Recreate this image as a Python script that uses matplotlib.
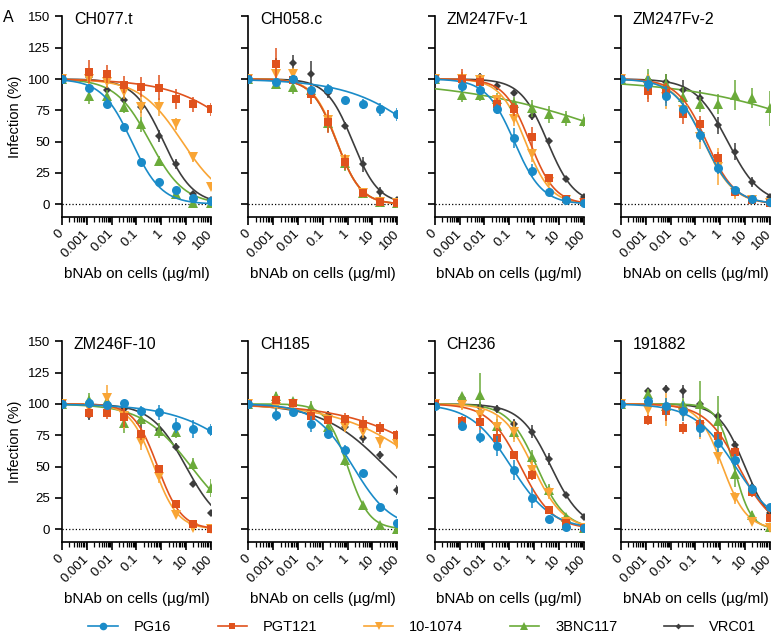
import numpy as np
import matplotlib
matplotlib.use('Agg')
import matplotlib.pyplot as plt
import matplotlib.ticker as mtick
from matplotlib.lines import Line2D

plt.rcParams['font.family'] = ['Liberation Sans', 'DejaVu Sans']

# viruses (panels) and bNAbs
viruses = ['CH077.t', 'CH058.c', 'ZM247Fv-1', 'ZM247Fv-2',
           'ZM246F-10', 'CH185', 'CH236', '191882']
antibodies = ['PG16', 'PGT121', '10-1074', '3BNC117', 'VRC01']
colors = ['#1a8bc8', '#e0521d', '#f9a535', '#6bab3a', '#3d3d3d']
markers = ['o', 's', 'v', '^', 'D']
msizes = [6.5, 6, 6.5, 6.5, 4]

# concentrations (ug/ml); 0 is drawn at the "0" position of the axis
conc = [0, 0.00128, 0.0064, 0.032, 0.16, 0.8, 4, 20, 100]
zero_pos = 1e-4
xticks = [1e-4, 1e-3, 1e-2, 1e-1, 1, 10, 100]
xticklabels = ['0', '0.001', '0.01', '0.1', '1', '10', '100']
yticks = [0, 25, 50, 75, 100, 125, 150]

# infection (%) per virus, one row per panel
pg16 = [[100, 93, 80, 61.6, 33.5, 17.5, 11.4, 5.3, 2.7],
        [100, 97.7, 100, 91.6, 92.4, 83, 79.7, 75.7, 71.7],
        [100, 94.3, 91, 75.7, 53, 26.8, 10, 3.5, 1.3],
        [100, 96.4, 86.3, 75.7, 55, 29, 11, 4, 1.6],
        [100, 101, 99, 100.7, 94.6, 93.3, 82.6, 80, 79.4],
        [100, 91.4, 93.3, 84, 76, 63.4, 44.8, 18, 5.3],
        [98.6, 82.6, 74, 66.6, 47, 24.8, 8.3, 2, 0.8],
        [100, 102, 98, 94.6, 80.7, 68.7, 55.4, 32, 17.3]]
pg16_err = [[2, 3, 3, 2, 2, 2, 2, 2, 2],
            [2, 3, 3, 3, 4, 3, 4, 5, 5],
            [2, 5, 4, 4, 8, 5, 3, 2, 1],
            [2, 6, 8, 5, 5, 5, 3, 2, 1],
            [1, 4, 3, 2, 4, 6, 6, 7, 5],
            [1, 5, 3, 6, 2, 4, 3, 2, 2],
            [1, 4, 5, 8, 8, 8, 2, 1, 1],
            [1, 4, 7, 8, 7, 7, 5, 4, 3]]

pgt121 = [[100, 106, 104, 95.6, 93.8, 93, 84, 79.7, 75.7],
          [100, 111.8, 99, 88, 66, 33.5, 9.3, 2, 1],
          [100, 100, 97.7, 80, 75.7, 54, 20.7, 4, 1.5],
          [100, 90.6, 89, 72, 63.7, 36.7, 10, 3.5, 1.3],
          [100, 92.7, 92.7, 89.3, 76, 48, 20, 4, 0],
          [100, 103, 101, 90, 87, 88, 84, 80.7, 75],
          [100, 86, 85.5, 72.7, 59.4, 43, 15.5, 4.8, 1],
          [100, 87.4, 94, 80.7, 84, 74.6, 62, 30, 9.3]]
pgt121_err = [[2, 9, 7, 7, 8, 10, 8, 6, 5],
              [2, 13, 3, 8, 9, 6, 2, 1, 1],
              [2, 8, 5, 5, 5, 8, 3, 1, 1],
              [2, 9, 8, 8, 7, 5, 2, 1, 1],
              [1, 4, 5, 8, 5, 3, 2, 1, 1],
              [1, 3, 2, 4, 3, 5, 6, 5, 4],
              [1, 4, 6, 8, 3, 4, 2, 1, 1],
              [1, 4, 8, 5, 4, 4, 4, 4, 2]]

ab10_1074 = [[100, 100, 97.7, 90, 77.8, 77.8, 64, 38, 14],
             [100, 104, 104, 88, 67, 35, 9, 2, 1],
             [100, 100, 99, 83, 67.7, 40, 18, 3.5, 1],
             [100, 94, 86, 75, 54, 30, 9, 3.5, 1.3],
             [100, 97, 105, 90, 69.5, 42, 11.5, 1, 0],
             [100, 97.5, 100, 90, 87.4, 81.5, 78, 70, 68.2],
             [100, 99, 91.4, 82, 78, 47.4, 28.8, 6, 1],
             [100, 95.4, 95.4, 92, 82, 58, 24.8, 6, 1]]
ab10_1074_err = [[2, 5, 5, 6, 8, 7, 5, 4, 2],
                 [2, 5, 5, 8, 8, 5, 2, 1, 1],
                 [2, 6, 5, 5, 5, 6, 3, 1, 1],
                 [2, 10, 10, 6, 10, 15, 5, 2, 1],
                 [1, 5, 10, 10, 6, 5, 2, 1, 1],
                 [1, 3, 3, 4, 3, 4, 5, 5, 4],
                 [1, 4, 5, 8, 8, 8, 5, 2, 1],
                 [1, 5, 13, 6, 10, 6, 5, 2, 1]]

bnc117 = [[100, 86.3, 86.3, 77.8, 64, 34.5, 8, 0.8, 0.8],
          [100, 96.4, 94, 91, 64.5, 32.7, 9, 2, 1],
          [100, 87.6, 87.6, 83.7, 80.5, 76.5, 71.7, 68.5, 66.7],
          [100, 101, 96.4, 85.8, 80, 80, 87, 85, 76.5],
          [100, 103, 102, 85, 88, 78.6, 78, 52, 32.8],
          [100, 106.6, 102, 97.5, 82, 55.4, 19.5, 3.5, 0],
          [100, 106, 107.4, 82.6, 77.3, 58, 31.4, 10, 1],
          [100, 108, 98.6, 100, 100, 86, 44, 11.5, 1.6]]
bnc117_err = [[2, 6, 5, 5, 6, 4, 2, 1, 1],
              [2, 4, 6, 5, 7, 6, 2, 1, 1],
              [2, 6, 5, 5, 5, 7, 7, 6, 5],
              [2, 7, 8, 8, 6, 8, 12, 8, 14],
              [1, 6, 5, 8, 5, 6, 5, 5, 7],
              [1, 3, 3, 5, 3, 5, 2, 1, 1],
              [1, 3, 17, 5, 5, 5, 5, 2, 1],
              [1, 4, 6, 5, 18, 20, 10, 3, 1]]

vrc01 = [[100, 101.7, 91.6, 83, 78, 54.4, 32, 8, 3],
         [100, 113, 113, 104, 89, 62.7, 32, 10, 3],
         [100, 99, 102, 94.3, 89, 70.4, 50.7, 20, 6],
         [100, 99, 97.7, 91, 85, 63, 42, 18, 6],
         [100, 91, 98.6, 96, 86, 79.4, 66, 36.2, 12.8],
         [100, 102, 100.7, 91.4, 91.4, 82, 73, 59.4, 31.4],
         [100, 104.7, 97.5, 96, 84, 78, 56, 27, 10],
         [100, 110, 112, 110, 100, 90.6, 67.4, 34, 13.3]]
vrc01_err = [[2, 3, 3, 4, 5, 5, 4, 2, 1],
             [2, 4, 6, 10, 4, 3, 6, 4, 2],
             [2, 3, 3, 3, 2, 3, 2, 2, 1],
             [2, 3, 6, 8, 6, 7, 7, 4, 2],
             [1, 4, 3, 3, 5, 3, 3, 2, 1],
             [1, 2, 2, 4, 3, 3, 4, 3, 4],
             [1, 2, 4, 3, 4, 5, 5, 2, 1],
             [1, 3, 3, 5, 3, 3, 3, 3, 2]]

# fitted dose-response curves (IC50 in ug/ml, Hill slope), top 100 / bottom 0
ic50 = {'PG16':    [0.065, 2400, 0.16, 0.22, 7000, 1.66, 0.12, 4.1],
        'PGT121':  [4500, 0.36, 0.67, 0.28, 0.72, 12000, 0.29, 5.5],
        '10-1074': [7, 0.37, 0.45, 0.22, 0.51, 1600, 0.9, 1.25],
        '3BNC117': [0.35, 0.36, 18600, 2.5e5, 16, 1.0, 1.3, 3.56],
        'VRC01':   [1.25, 1.6, 3.5, 2.0, 10, 34, 4.85, 9.9]}
hill = {'PG16':    [0.72, 0.28, 0.77, 0.70, 0.30, 0.56, 0.53, 0.52],
        'PGT121':  [0.30, 0.88, 0.85, 0.75, 0.90, 0.23, 0.67, 0.65],
        '10-1074': [0.51, 0.90, 0.85, 0.72, 0.90, 0.25, 0.70, 0.90],
        '3BNC117': [0.63, 0.88, 0.13, 0.147, 0.44, 1.0, 0.75, 1.27],
        'VRC01':   [0.73, 0.83, 0.80, 0.66, 0.62, 0.34, 0.70, 0.83]}

values = [pg16, pgt121, ab10_1074, bnc117, vrc01]
errors = [pg16_err, pgt121_err, ab10_1074_err, bnc117_err, vrc01_err]

x_pts = np.array([zero_pos if c == 0 else c for c in conc])
x_fit = np.logspace(-4, 2, 200)

fig = plt.figure(figsize=(7.75, 6.44), dpi=100)
lefts = [0.080, 0.3205, 0.561, 0.8013]
bottoms = [0.6635, 0.1589]
w, h = 0.192, 0.311

for p, virus in enumerate(viruses):
    row, col = divmod(p, 4)
    ax = fig.add_axes([lefts[col], bottoms[row], w, h])
    ax.plot([1e-4, 100], [0, 0], ':', color='black', lw=0.9, zorder=1)
    # draw last series first so PG16 ends up on top
    for k in reversed(range(len(antibodies))):
        ab = antibodies[k]
        y = np.array(values[k][p])
        e = np.array(errors[k][p])
        ax.errorbar(x_pts, y, yerr=e, fmt=markers[k], color=colors[k],
                    ms=msizes[k], mew=0, elinewidth=1.1, capsize=3,
                    capthick=1.1, zorder=3 + (5 - k))
        yf = 100.0 / (1 + (x_fit / ic50[ab][p]) ** hill[ab][p])
        ax.plot(x_fit, yf, '-', color=colors[k], lw=1.2, zorder=2 + (5 - k))
    ax.set_xscale('log')
    ax.set_xlim(1e-4, 100)
    ax.set_ylim(-10, 150)
    ax.spines['top'].set_visible(False)
    ax.spines['right'].set_visible(False)
    ax.spines['left'].set_linewidth(1.2)
    ax.spines['bottom'].set_linewidth(1.2)
    ax.set_xticks(xticks)
    ax.set_xticklabels(xticklabels, rotation=45, ha='right', va='center',
                       rotation_mode='anchor', fontsize=9.5)
    ax.xaxis.set_minor_locator(mtick.LogLocator(base=10, subs=np.arange(2, 10), numticks=20))
    ax.xaxis.set_minor_formatter(mtick.NullFormatter())
    ax.tick_params(axis='x', which='major', length=6, width=1.2, pad=5)
    ax.tick_params(axis='x', which='minor', length=3.5, width=0.9)
    ax.set_yticks(yticks)
    ax.tick_params(axis='y', length=5, width=1.2, labelsize=9.5)
    if col == 0:
        ax.set_ylabel('Infection (%)', fontsize=10.5)
    else:
        ax.set_yticklabels([])
    ax.set_xlabel('bNAb on cells (µg/ml)', fontsize=11, labelpad=5)
    ax.text(0.08, 0.985, virus, transform=ax.transAxes, fontsize=11.5,
            ha='left', va='center')

fig.text(0.004, 0.985, 'A', fontsize=11.5, va='top')

handles = [Line2D([0], [0], color=colors[k], marker=markers[k], ms=msizes[k] - 1,
                  mew=0, lw=1.2) for k in range(len(antibodies))]
fig.legend(handles, antibodies, loc='lower center', ncol=5, frameon=False,
           bbox_to_anchor=(0.545, -0.005), fontsize=10.5, columnspacing=3.2,
           handlelength=2.0, handletextpad=1.1)

plt.savefig('out.png', dpi=100)
